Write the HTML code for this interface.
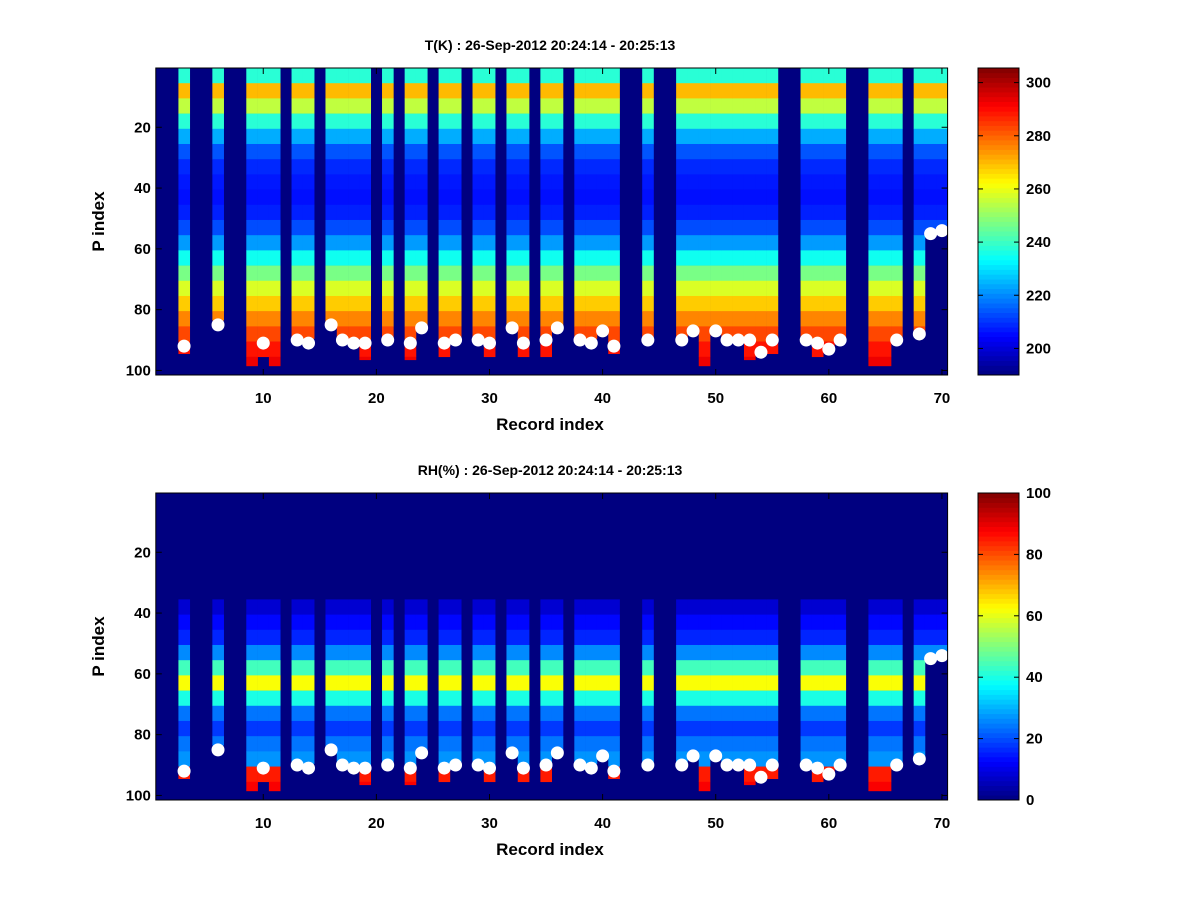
<!DOCTYPE html>
<html><head><meta charset="utf-8"><style>
body{margin:0;background:#fff;width:1200px;height:900px;overflow:hidden}
svg text{font-family:"Liberation Sans",sans-serif;font-weight:bold}
</style></head><body>
<svg id="fig" width="1200" height="900" xmlns="http://www.w3.org/2000/svg"></svg>
<script>
// ---- data ----
const records = [3,6,9,10,11,13,14,16,17,18,19,21,23,24,26,27,29,30,32,33,35,36,38,39,40,41,44,47,48,49,50,51,52,53,54,55,58,59,60,61,64,65,66,68,69,70];
const bottoms = [94,83,98,95,98,89,89,84,89,89,96,89,96,85,95,89,89,95,85,95,95,85,89,89,86,94,89,89,86,98,86,89,89,96,93,94,89,95,92,89,98,98,89,87,54,53];
const dotRec = [3,6,10,13,14,16,17,18,19,21,23,24,26,27,29,30,32,33,35,36,38,39,40,41,44,47,48,50,51,52,53,54,55,58,59,60,61,66,68,69,70];
const dotP = [92,85,91,90,91,85,90,91,91,90,91,86,91,90,90,91,86,91,90,86,90,91,87,92,90,90,87,87,90,90,90,94,90,90,91,93,90,90,88,55,54];
const tProfile = [238,270,255,238,224,214,209,207,206,208,213,222,235,247,258,268,276,283,289,293,295];
const rhProfile = [0,0,0,0,0,0,0,8,13,16,26,44,62,40,24,18,24,27,85,88,88];
const tTicks = [200,220,240,260,280,300];
const rhTicks = [0,20,40,60,80,100];
const xTicks = [10,20,30,40,50,60,70];
const yTicks = [20,40,60,80,100];

const NS="http://www.w3.org/2000/svg";
const svg=document.getElementById('fig');
function mk(tag,attrs,parent){const e=document.createElementNS(NS,tag);for(const k in attrs)e.setAttribute(k,attrs[k]);(parent||svg).appendChild(e);return e;}
function jet(v){
  v=Math.max(0,Math.min(1,v));
  const f=(x)=>Math.max(0,Math.min(1,1.5-Math.abs(x)));
  const r=f(4*v-3),g=f(4*v-2),b=f(4*v-1);
  return `rgb(${Math.round(r*255)},${Math.round(g*255)},${Math.round(b*255)})`;
}
function panel(name,top,title,profile,vmin,vmax,cticks){
  const L=155.8,R=947.6,T=top,B=top+307;
  const xs=r=>L+(r-0.5)*(R-L)/70;
  const ys=p=>T+(p-0.5)*(B-T)/101;
  const g=mk('g',{});
  
  
  const bg=mk('rect',{x:L,y:T,width:R-L,height:B-T,fill:jet(0)},g);
  
  
  records.forEach((r,i)=>{
    const bot=bottoms[i];
    for(let b=0;b<profile.length;b++){
      const p0=0.5+5*b, p1=Math.min(5.5+5*b,bot+0.5);
      if(p1<=p0)break;
      const c=mk('rect',{x:xs(r-0.5),y:ys(p0),width:xs(r+0.5)-xs(r-0.5)+0.3,height:ys(p1)-ys(p0)+0.3,fill:jet((profile[b]-vmin)/(vmax-vmin))},g);
      
      
    }
  });
  dotRec.forEach((r,i)=>{
    const d=mk('circle',{cx:xs(r),cy:ys(dotP[i]),r:6.5,fill:'#fff'},g);
    
    
  });
  const fr=mk('rect',{x:L,y:T,width:R-L,height:B-T,fill:'none',stroke:'#000','stroke-width':1},g);
  
  
  xTicks.forEach(t=>{
    mk('line',{x1:xs(t),x2:xs(t),y1:B,y2:B-6,stroke:'#000'},g);
    mk('line',{x1:xs(t),x2:xs(t),y1:T,y2:T+6,stroke:'#000'},g);
    const tx=mk('text',{x:xs(t),y:B+28,'text-anchor':'middle','font-size':15},g);tx.textContent=t;
    
    
  });
  yTicks.forEach(t=>{
    mk('line',{x1:L,x2:L+6,y1:ys(t),y2:ys(t),stroke:'#000'},g);
    mk('line',{x1:R,x2:R-6,y1:ys(t),y2:ys(t),stroke:'#000'},g);
    const tx=mk('text',{x:L-5,y:ys(t)+5,'text-anchor':'end','font-size':15},g);tx.textContent=t;
    
    
  });
  const ti=mk('text',{x:550,y:T-18,'text-anchor':'middle','font-size':14},g);ti.textContent=title;
  
  
  const xl=mk('text',{x:550,y:B+55,'text-anchor':'middle','font-size':17},g);xl.textContent='Record index';
  
  
  const yl=mk('text',{x:0,y:0,'text-anchor':'middle','font-size':17,transform:`translate(104,${(T+B)/2}) rotate(-90)`},g);yl.textContent='P index';
  
  
  const cL=978,cR=1019;
  const cb=mk('g',{},g);
  
  
  const n=64;
  for(let k=0;k<n;k++){
    const y0=B-(k+1)*(B-T)/n;
    mk('rect',{x:cL,y:y0,width:cR-cL,height:(B-T)/n+0.4,fill:jet((k+0.5)/n)},cb);
  }
  mk('rect',{x:cL,y:T,width:cR-cL,height:B-T,fill:'none',stroke:'#000'},cb);
  const cy=v=>B-(v-vmin)/(vmax-vmin)*(B-T);
  cticks.forEach(t=>{
    mk('line',{x1:cL,x2:cL+5,y1:cy(t),y2:cy(t),stroke:'#000'},cb);
    mk('line',{x1:cR,x2:cR-5,y1:cy(t),y2:cy(t),stroke:'#000'},cb);
    const tx=mk('text',{x:cR+7,y:cy(t)+5,'font-size':15},cb);tx.textContent=t;
    
    
  });
}
panel('temperature',68,'T(K) : 26-Sep-2012 20:24:14 - 20:25:13',tProfile,190,305.5,tTicks);
panel('humidity',493,'RH(%) : 26-Sep-2012 20:24:14 - 20:25:13',rhProfile,0,100,rhTicks);
</script>
</body></html>
